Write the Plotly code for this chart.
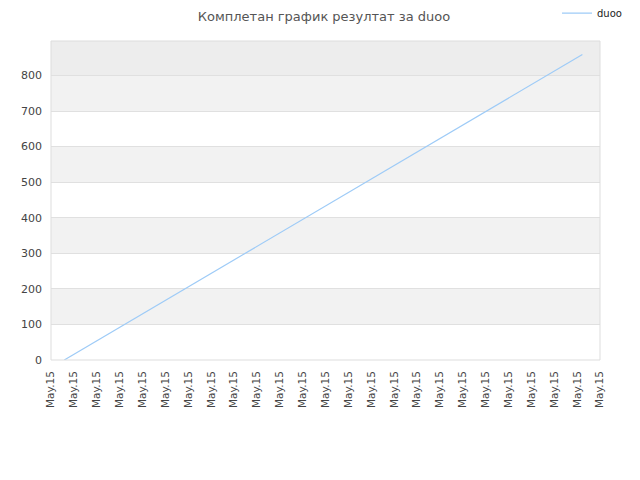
import plotly.graph_objects as go

# data
x_pos = [0.58, 23.23]
scores = [0, 859]
x_ticks = list(range(25))
x_labels = ["May.15"] * 25
y_ticks = [0, 100, 200, 300, 400, 500, 600, 700, 800]
y_max = 897

fig = go.Figure()
fig.add_trace(go.Scatter(
    x=x_pos, y=scores, mode="lines", name="duoo",
    line=dict(color="#9ecbf7", width=1.2),
))

# alternating bands between gridlines
shapes = []
edges = y_ticks + [y_max]
for i in range(len(edges) - 1):
    if i % 2 == 1:
        shapes.append(dict(type="rect", xref="paper", yref="y", x0=0, x1=1,
                           y0=edges[i], y1=edges[i + 1], fillcolor="#f2f2f2",
                           line=dict(width=0), layer="below"))
shapes.append(dict(type="rect", xref="paper", yref="y", x0=0, x1=1,
                   y0=edges[-2], y1=edges[-1], fillcolor="#ededed",
                   line=dict(width=0), layer="below"))
shapes.append(dict(type="rect", xref="paper", yref="paper", x0=0, x1=1, y0=0, y1=1,
                   line=dict(color="#dddddd", width=1), layer="above"))

# page body adds an 8px offset, so the figure is 632x472
fig.update_layout(
    width=632, height=472,
    margin=dict(l=43, r=40, t=33, b=120, autoexpand=False),
    paper_bgcolor="white", plot_bgcolor="white",
    font=dict(family="DejaVu Sans", size=11, color="#444444"),
    title=dict(text="Комплетан график резултат за duoo", x=0.5, xanchor="center",
               y=0.983, yref="container", yanchor="middle",
               font=dict(family="DejaVu Sans", size=13, color="#555555")),
    showlegend=True,
    legend=dict(x=0.8687, xanchor="left", xref="container", y=0.989, yanchor="middle",
                yref="container", orientation="h", itemwidth=30,
                bgcolor="rgba(0,0,0,0)", font=dict(size=10, color="#222222")),
    shapes=shapes,
    xaxis=dict(range=[0, 24], tickmode="array", tickvals=x_ticks, ticktext=x_labels,
               tickangle=-90, showgrid=False, zeroline=False, showline=False,
               ticks="", tickfont=dict(size=10.5), ticklabelstandoff=8,
               automargin=False),
    yaxis=dict(range=[0, y_max], tickmode="array", tickvals=y_ticks,
               showgrid=True, gridcolor="#e0e0e0", gridwidth=1, zeroline=False,
               showline=False, ticks="", tickfont=dict(size=11), ticklabelstandoff=8,
               automargin=False),
)

fig.write_html("out.html")
